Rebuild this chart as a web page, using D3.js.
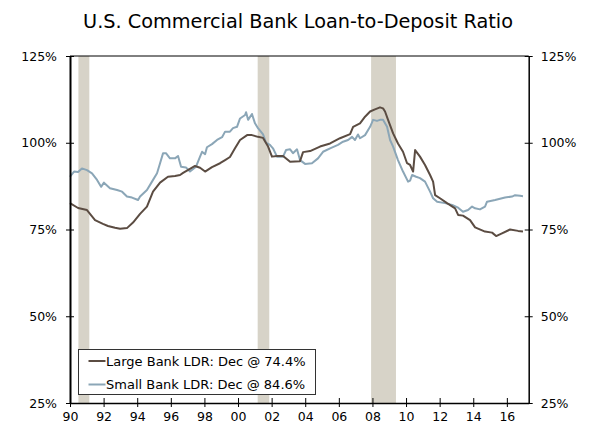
<!DOCTYPE html>
<html>
<head>
<meta charset="utf-8">
<script src="https://cdn.jsdelivr.net/npm/d3@7"></script>
<style>
  body { margin: 0; background: #fff; }
  svg { display: block; }
</style>
</head>
<body>
<script>
// values (year as decimal, ratio in %)
const largeYears = [1990.00,1990.48,1991.01,1991.49,1991.96,1992.26,1992.68,1992.98,1993.39,1993.75,1994.17,1994.58,1994.94,1995.36,1995.83,1996.25,1996.55,1996.73,1997.14,1997.44,1997.74,1998.04,1998.45,1998.93,1999.23,1999.52,1999.82,2000.12,2000.54,2000.83,2001.19,2001.49,2001.79,2002.02,2002.32,2002.68,2003.10,2003.69,2003.87,2004.29,2004.88,2005.48,2006.07,2006.67,2006.85,2007.26,2007.56,2007.86,2008.15,2008.45,2008.63,2008.75,2008.93,2009.23,2009.52,2009.82,2010.06,2010.24,2010.42,2010.54,2010.83,2011.13,2011.43,2011.61,2011.73,2012.02,2012.44,2012.92,2013.10,2013.39,2013.81,2014.11,2014.70,2015.12,2015.36,2015.71,2016.19,2016.67,2016.96];
const largeValues = [82.6,81.2,80.6,77.7,76.6,76.0,75.5,75.2,75.4,77.0,79.5,81.6,85.9,88.5,90.2,90.4,90.7,91.3,92.5,93.3,92.8,91.7,93.0,94.1,95.0,95.9,98.4,100.8,102.2,102.2,101.7,101.4,98.9,96.0,96.2,96.2,94.5,94.7,97.3,97.6,98.9,99.8,101.3,102.5,104.6,105.6,107.5,109.0,109.6,110.2,109.9,109.0,106.6,102.7,99.8,97.4,94.1,93.6,91.7,97.9,96.0,93.6,90.7,88.8,84.9,84.0,82.6,81.1,79.2,79.0,77.7,75.6,74.4,74.1,73.1,73.9,75.0,74.6,74.4];

const smallYears = [1990.00,1990.24,1990.48,1990.71,1991.01,1991.31,1991.61,1991.85,1992.02,1992.38,1992.80,1993.10,1993.39,1993.69,1994.05,1994.17,1994.58,1994.88,1995.18,1995.36,1995.54,1995.71,1995.95,1996.25,1996.43,1996.61,1996.90,1997.14,1997.50,1997.74,1997.86,1998.04,1998.15,1998.45,1998.75,1999.05,1999.23,1999.52,1999.70,1999.94,2000.12,2000.42,2000.48,2000.60,2000.83,2001.01,2001.19,2001.49,2001.67,2001.90,2002.08,2002.32,2002.68,2002.86,2003.10,2003.27,2003.51,2003.69,2003.99,2004.40,2004.76,2005.06,2005.48,2005.95,2006.25,2006.55,2006.79,2006.96,2007.14,2007.26,2007.56,2007.86,2008.04,2008.27,2008.45,2008.63,2008.87,2009.05,2009.23,2009.52,2009.82,2010.12,2010.24,2010.36,2010.60,2010.83,2011.13,2011.43,2011.61,2011.85,2012.32,2012.74,2013.10,2013.39,2013.69,2013.93,2014.11,2014.40,2014.70,2014.82,2015.30,2015.89,2016.31,2016.49,2016.79,2016.96];
const smallValues = [90.2,91.7,91.6,92.6,92.1,91.2,89.3,87.3,88.5,86.9,86.4,85.9,84.5,84.2,83.5,84.5,86.4,88.8,91.2,94.1,97.0,97.0,95.5,95.5,96.2,93.1,92.9,91.7,93.1,96.0,97.4,96.7,98.7,99.6,100.8,101.6,103.2,103.2,104.2,104.6,107.0,108.0,108.8,106.6,108.3,105.6,104.2,102.4,100.0,99.4,98.4,96.0,96.0,97.9,98.1,97.0,98.1,95.0,93.9,94.1,95.5,97.4,98.4,99.4,100.3,100.8,101.7,100.8,102.4,101.3,102.2,104.6,106.6,106.3,106.6,106.6,104.6,100.8,98.9,95.0,91.7,88.8,89.1,90.7,90.2,89.8,88.8,85.9,84.0,83.0,82.6,82.1,81.3,80.1,80.6,81.6,81.1,80.8,81.6,83.0,83.5,84.2,84.5,84.9,84.7,84.6];

const recessions = [[1990.5, 1991.15], [2001.17, 2001.86], [2007.92, 2009.4]];
const yTicks = [25, 50, 75, 100, 125];
const xTicks = [1990,1992,1994,1996,1998,2000,2002,2004,2006,2008,2010,2012,2014,2016];
const seriesNames = ["Large Bank LDR: Dec @ 74.4%", "Small Bank LDR: Dec @ 84.6%"];
const seriesColors = ["#5b4c42", "#8ba6b7"];

const width = 591, height = 423;
const margin = {left: 70, right: 62.3, top: 56, bottom: 20};
const fontAxis = "DejaVu Sans, Verdana, sans-serif";

const svg = d3.select("body").append("svg")
    .attr("width", width)
    .attr("height", height);

const x = d3.scaleLinear().domain([1990, 2017.3]).range([margin.left, width - margin.right]);
const y = d3.scaleLinear().domain([25, 125]).range([height - margin.bottom, margin.top]);

svg.append("text")
    .attr("x", 298).attr("y", 28)
    .attr("text-anchor", "middle")
    .style("font-family", fontAxis)
    .style("font-size", "19.3px")
    .text("U.S. Commercial Bank Loan-to-Deposit Ratio");

// recession bars
svg.append("g").selectAll("rect")
    .data(recessions)
    .join("rect")
    .attr("x", d => x(d[0]))
    .attr("width", d => x(d[1]) - x(d[0]))
    .attr("y", y(125))
    .attr("height", y(25) - y(125))
    .attr("fill", "#d7d3c8");

const line = d3.line().x(d => x(d[0])).y(d => y(d[1]));
const large = largeYears.map((t, i) => [t, largeValues[i]]);
const small = smallYears.map((t, i) => [t, smallValues[i]]);

[small, large].forEach((s, i) => {
    svg.append("path")
        .datum(s)
        .attr("fill", "none")
        .attr("stroke", seriesColors[1 - i])
        .attr("stroke-width", 2)
        .attr("stroke-linejoin", "round")
        .attr("d", line);
});

// axes
const left = svg.append("g")
    .attr("transform", `translate(${margin.left},0)`)
    .call(d3.axisLeft(y).tickValues(yTicks).tickSizeInner(4).tickSizeOuter(0).tickPadding(9).tickFormat(d => d + "%"));
const right = svg.append("g")
    .attr("transform", `translate(${width - margin.right},0)`)
    .call(d3.axisRight(y).tickValues(yTicks).tickSizeInner(4).tickSizeOuter(0).tickPadding(8).tickFormat(d => d + "%"));
const bottom = svg.append("g")
    .attr("transform", `translate(0,${y(25)})`)
    .call(d3.axisBottom(x).tickValues(xTicks).tickSizeInner(4).tickSizeOuter(0).tickPadding(5)
        .tickFormat(d => d3.format("02")(d % 100)));

[left, right, bottom].forEach(g => {
    g.selectAll("text").style("font-family", fontAxis).style("font-size", "12.5px").attr("fill", "#000");
    g.selectAll("line").attr("stroke", "#000");
    g.select(".domain").attr("stroke", "#000");
});
left.select(".domain").attr("stroke-width", 2);
right.select(".domain").attr("stroke-width", 1.5);
bottom.select(".domain").attr("stroke-width", 1.5);

// ticks cross the axis lines
left.selectAll(".tick line").attr("x2", 4).attr("x1", -4);
right.selectAll(".tick line").attr("x1", -4).attr("x2", 4);
bottom.selectAll(".tick line").attr("y1", -5).attr("y2", 4);

svg.append("line")
    .attr("x1", margin.left).attr("x2", width - margin.right)
    .attr("y1", y(125)).attr("y2", y(125))
    .attr("stroke", "#000").attr("stroke-width", 1);

// legend
const leg = svg.append("g").attr("transform", "translate(78.5,349.5)");
leg.append("rect")
    .attr("width", 237).attr("height", 45)
    .attr("fill", "#fff").attr("stroke", "#333").attr("stroke-width", 1);
seriesNames.forEach((name, i) => {
    const row = leg.append("g").attr("transform", `translate(0,${11.5 + i * 23.5})`);
    row.append("line").attr("x1", 10).attr("x2", 27).attr("stroke", seriesColors[i]).attr("stroke-width", 2);
    row.append("text").attr("x", 27.5).attr("y", 4.8)
        .style("font-family", fontAxis).style("font-size", "13px")
        .text(name);
});
</script>
</body>
</html>
